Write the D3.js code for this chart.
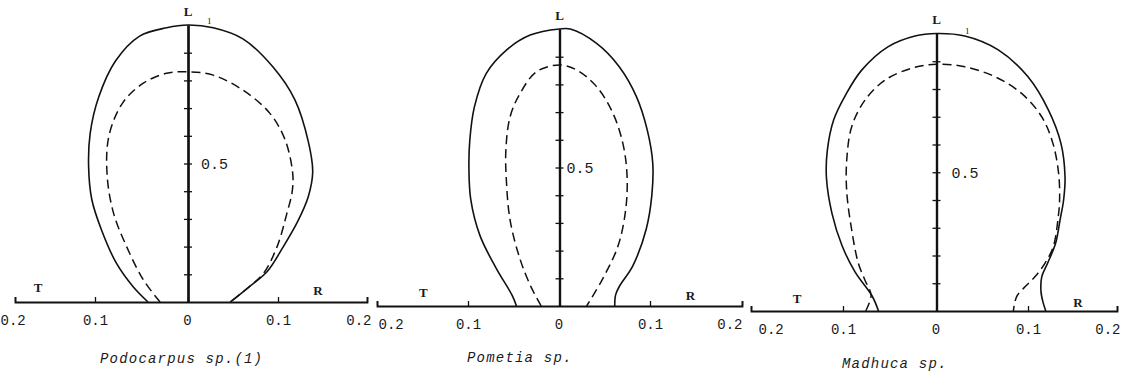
<!DOCTYPE html>
<html>
<head>
<meta charset="utf-8">
<script src="https://cdn.jsdelivr.net/npm/d3@7/dist/d3.min.js"></script>
<style>
  body { margin: 0; background: #fff; }
  svg { display: block; }
  .xlab { font-family: "Liberation Mono", "DejaVu Sans Mono", monospace; font-size: 14px; fill: #1a1a1a; }
  .mid { font-family: "Liberation Mono", "DejaVu Sans Mono", monospace; font-size: 15px; fill: #1a1a1a; }
  .dir { font-family: "Liberation Serif", serif; font-size: 13px; font-weight: bold; fill: #1a1a1a; }
  .one { font-family: "Liberation Serif", serif; font-size: 9px; fill: #1a1a1a; }
  .cap { font-family: "Liberation Mono", "DejaVu Sans Mono", monospace; font-size: 14px; font-style: italic; letter-spacing: 1.2px; fill: #1a1a1a; }
</style>
</head>
<body>
<svg id="chart" width="1123" height="381"></svg>
<script>
// Shrinkage profiles along the specimen length (L, 0..1).
// Negative x = tangential shrinkage (T side), positive x = radial (R side).
const species = ["Podocarpus sp.(1)", "Pometia sp.", "Madhuca sp."];

const xTickValues = [-0.2, -0.1, 0, 0.1, 0.2];
const xTickLabels = ["0.2", "0.1", "0", "0.1", "0.2"];
const yTickValues = [0.1, 0.2, 0.3, 0.4, 0.5, 0.6, 0.7, 0.8, 0.9];
const yMidValue = 0.5;
const yMidLabel = "0.5";

// [x, L] pairs, solid = outer profile, dashed = inner profile
const podocarpusSolid = [
  [-0.043, 0], [-0.059, 0.055], [-0.077, 0.14], [-0.093, 0.26], [-0.104, 0.37], [-0.108, 0.49],
  [-0.106, 0.61], [-0.096, 0.74], [-0.078, 0.87], [-0.052, 0.96], [-0.023, 0.99], [0, 1.0],
  [0.028, 0.99], [0.061, 0.95], [0.094, 0.85], [0.119, 0.73], [0.134, 0.58], [0.139, 0.47],
  [0.134, 0.38], [0.122, 0.29], [0.106, 0.20], [0.088, 0.11], [0.068, 0.055], [0.047, 0]
];
const podocarpusDashed = [
  [-0.030, 0], [-0.048, 0.08], [-0.066, 0.20], [-0.080, 0.32], [-0.087, 0.46], [-0.085, 0.60],
  [-0.070, 0.72], [-0.048, 0.79], [-0.023, 0.826], [0, 0.831], [0.028, 0.819], [0.061, 0.765],
  [0.091, 0.681], [0.108, 0.585], [0.1165, 0.465], [0.116, 0.40], [0.110, 0.32], [0.099, 0.20],
  [0.084, 0.104], [0.068, 0.055], [0.047, 0]
];
const pometiaSolid = [
  [-0.047, 0], [-0.052, 0.04], [-0.069, 0.135], [-0.087, 0.255], [-0.097, 0.385], [-0.099, 0.50],
  [-0.098, 0.60], [-0.093, 0.719], [-0.080, 0.840], [-0.058, 0.924], [-0.032, 0.978], [0, 1.0],
  [0.012, 1.0], [0.041, 0.948], [0.066, 0.864], [0.085, 0.756], [0.097, 0.635], [0.103, 0.515],
  [0.102, 0.40], [0.096, 0.28], [0.081, 0.145], [0.066, 0.07], [0.062, 0.04], [0.061, 0]
];
const pometiaDashed = [
  [-0.020, 0], [-0.031, 0.068], [-0.043, 0.168], [-0.054, 0.31], [-0.058, 0.45], [-0.0586, 0.563],
  [-0.054, 0.683], [-0.043, 0.768], [-0.025, 0.846], [0, 0.87], [0.019, 0.852], [0.041, 0.792],
  [0.059, 0.696], [0.070, 0.587], [0.0745, 0.479], [0.0735, 0.358], [0.065, 0.22], [0.048, 0.10],
  [0.030, 0]
];
const madhucaSolid = [
  [-0.062, 0], [-0.069, 0.055], [-0.087, 0.14], [-0.101, 0.235], [-0.112, 0.352], [-0.118, 0.48],
  [-0.117, 0.58], [-0.110, 0.69], [-0.097, 0.78], [-0.080, 0.868], [-0.052, 0.952], [-0.023, 0.991],
  [0, 1.0], [0.031, 0.991], [0.0675, 0.941], [0.100, 0.844], [0.123, 0.724], [0.137, 0.604],
  [0.1416, 0.484], [0.140, 0.40], [0.136, 0.328], [0.131, 0.244], [0.122, 0.172], [0.1155, 0.124],
  [0.1146, 0.07], [0.117, 0.03], [0.120, 0]
];
const madhucaDashed = [
  [-0.0757, 0], [-0.070, 0.057], [-0.0765, 0.111], [-0.0836, 0.172], [-0.0907, 0.292], [-0.096, 0.43],
  [-0.096, 0.544], [-0.0907, 0.664], [-0.0765, 0.760], [-0.0551, 0.832], [-0.0265, 0.875], [0, 0.889],
  [0.031, 0.880], [0.064, 0.844], [0.093, 0.784], [0.1154, 0.700], [0.128, 0.604], [0.1344, 0.496],
  [0.1355, 0.40], [0.134, 0.34], [0.1284, 0.232], [0.119, 0.172], [0.108, 0.124], [0.097, 0.088],
  [0.0876, 0.052], [0.084, 0]
];

const solidProfiles = [podocarpusSolid, pometiaSolid, madhucaSolid];
const dashedProfiles = [podocarpusDashed, pometiaDashed, madhucaDashed];

// Per-panel placement on the page
const panels = [
  { xRange: [15, 95, 188, 278, 367], yRange: [302, 25], lDy: -9, midDx: 13, tX: -0.171, rX: 0.145,
    dirDy: [-10, -7], leftDx: -15, rightDx: 4, capX: 100, capY: 363, one: [207, 24] },
  { xRange: [377, 468, 559.5, 650, 742], yRange: [306, 29], lDy: -9, midDx: 7, tX: -0.149, rX: 0.144,
    dirDy: [-9, -6], leftDx: 1, rightDx: 0, capX: 467, capY: 362, one: null },
  { xRange: [751, 843, 936.5, 1028, 1117], yRange: [311, 33.5], lDy: -10, midDx: 15, tX: -0.150, rX: 0.156,
    dirDy: [-8, -4], leftDx: 7, rightDx: 3, capX: 842, capY: 368, one: [965, 34] }
];

const svg = d3.select("#chart");
const ink = "#111";

panels.forEach((p, i) => {
  const x = d3.scaleLinear().domain(xTickValues).range(p.xRange);
  const y = d3.scaleLinear().domain([0, 1]).range(p.yRange);
  const g = svg.append("g");
  const y0 = y(0);

  // horizontal T/R axis: ticks point up, labels underneath
  const xAxis = d3.axisBottom(x)
    .tickValues(xTickValues)
    .tickSizeInner(-5)
    .tickSizeOuter(-5)
    .tickPadding(13)
    .tickFormat((d, k) => xTickLabels[k]);
  const gx = g.append("g").attr("transform", `translate(0,${y0})`).call(xAxis);
  gx.select(".domain").attr("stroke", ink).attr("stroke-width", 1.8);
  gx.selectAll(".tick line").attr("stroke", ink).attr("stroke-width", 1.3);
  gx.selectAll(".tick text").attr("class", "xlab").attr("font-family", null).attr("font-size", null).attr("fill", null);
  const texts = gx.selectAll(".tick text").nodes();
  d3.select(texts[0]).attr("text-anchor", "start").attr("dx", p.leftDx);
  d3.select(texts[texts.length - 1]).attr("text-anchor", "end").attr("dx", p.rightDx);
  d3.select(texts[2]).attr("dx", -1);

  // vertical L axis with ticks crossing both sides
  const yLeft = d3.axisLeft(y).tickValues(yTickValues).tickSize(4).tickSizeOuter(0).tickFormat("");
  const yRight = d3.axisRight(y).tickValues(yTickValues).tickSize(4).tickSizeOuter(0).tickFormat("");
  const gyl = g.append("g").attr("transform", `translate(${x(0)},0)`).call(yLeft);
  const gyr = g.append("g").attr("transform", `translate(${x(0)},0)`).call(yRight);
  [gyl, gyr].forEach(a => {
    a.select(".domain").attr("stroke", ink).attr("stroke-width", 2.2);
    a.selectAll(".tick line").attr("stroke", ink).attr("stroke-width", 1.3);
  });

  g.append("text").attr("class", "mid")
    .attr("x", x(0) + p.midDx).attr("y", y(yMidValue)).attr("dy", "0.35em")
    .text(yMidLabel);

  g.append("text").attr("class", "dir").attr("text-anchor", "middle")
    .attr("x", x(0)).attr("y", y(1) + p.lDy).text("L");
  g.append("text").attr("class", "dir").attr("text-anchor", "middle")
    .attr("x", x(p.tX)).attr("y", y0 + p.dirDy[0]).text("T");
  g.append("text").attr("class", "dir").attr("text-anchor", "middle")
    .attr("x", x(p.rX)).attr("y", y0 + p.dirDy[1]).text("R");
  if (p.one) {
    g.append("text").attr("class", "one").attr("x", p.one[0]).attr("y", p.one[1]).text("1");
  }

  const line = d3.line()
    .x(d => x(d[0]))
    .y(d => y(d[1]))
    .curve(d3.curveCatmullRom.alpha(0.5));

  g.append("path").datum(solidProfiles[i])
    .attr("d", line).attr("fill", "none").attr("stroke", ink).attr("stroke-width", 1.6);
  g.append("path").datum(dashedProfiles[i])
    .attr("d", line).attr("fill", "none").attr("stroke", ink).attr("stroke-width", 1.5)
    .attr("stroke-dasharray", "9,5");

  g.append("text").attr("class", "cap").attr("x", p.capX).attr("y", p.capY).text(species[i]);
});
</script>
</body>
</html>
